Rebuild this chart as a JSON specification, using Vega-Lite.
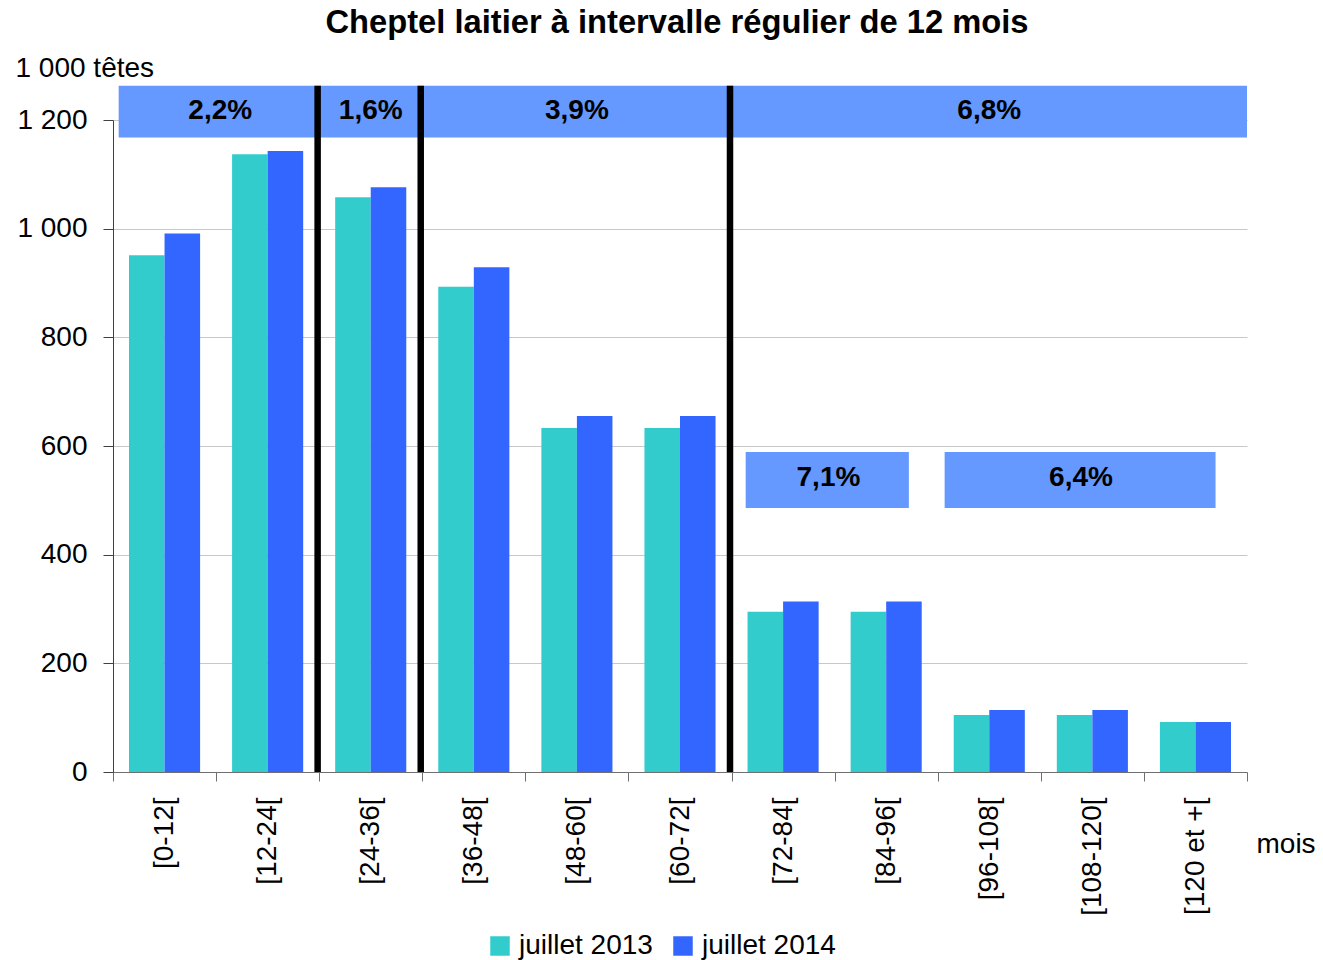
{
  "$schema": "https://vega.github.io/schema/vega-lite/v6.json",
  "width": 1134,
  "height": 652,
  "autosize": {"type": "none"},
  "padding": {"left": 113, "top": 120, "right": 76, "bottom": 188},
  "background": "white",
  "title": {
    "text": "Cheptel laitier à intervalle régulier de 12 mois",
    "font": "Liberation Sans",
    "fontSize": 32.7,
    "fontWeight": "bold",
    "color": "black",
    "anchor": "middle",
    "dx": -3,
    "dy": -10
  },
  "config": {
    "view": {"stroke": null},
    "font": "Liberation Sans"
  },
  "datasets": {
    "bars": [
      {"classe": "[0-12[", "annee": "juillet 2013", "tetes": 951},
      {"classe": "[0-12[", "annee": "juillet 2014", "tetes": 991},
      {"classe": "[12-24[", "annee": "juillet 2013", "tetes": 1137},
      {"classe": "[12-24[", "annee": "juillet 2014", "tetes": 1143},
      {"classe": "[24-36[", "annee": "juillet 2013", "tetes": 1058},
      {"classe": "[24-36[", "annee": "juillet 2014", "tetes": 1076},
      {"classe": "[36-48[", "annee": "juillet 2013", "tetes": 893},
      {"classe": "[36-48[", "annee": "juillet 2014", "tetes": 929},
      {"classe": "[48-60[", "annee": "juillet 2013", "tetes": 633},
      {"classe": "[48-60[", "annee": "juillet 2014", "tetes": 655},
      {"classe": "[60-72[", "annee": "juillet 2013", "tetes": 633},
      {"classe": "[60-72[", "annee": "juillet 2014", "tetes": 655},
      {"classe": "[72-84[", "annee": "juillet 2013", "tetes": 295},
      {"classe": "[72-84[", "annee": "juillet 2014", "tetes": 314},
      {"classe": "[84-96[", "annee": "juillet 2013", "tetes": 295},
      {"classe": "[84-96[", "annee": "juillet 2014", "tetes": 314},
      {"classe": "[96-108[", "annee": "juillet 2013", "tetes": 105},
      {"classe": "[96-108[", "annee": "juillet 2014", "tetes": 114},
      {"classe": "[108-120[", "annee": "juillet 2013", "tetes": 105},
      {"classe": "[108-120[", "annee": "juillet 2014", "tetes": 114},
      {"classe": "[120 et +[", "annee": "juillet 2013", "tetes": 92},
      {"classe": "[120 et +[", "annee": "juillet 2014", "tetes": 92}
    ],
    "premierBandeau": [
      {"debut": "[0-12[", "fin": "[12-24[", "evolution": "2,2%"}
    ],
    "bandeauxHaut": [
      {"debut": "[24-36[", "fin": "[24-36[", "evolution": "1,6%"},
      {"debut": "[36-48[", "fin": "[60-72[", "evolution": "3,9%"},
      {"debut": "[72-84[", "fin": "[120 et +[", "evolution": "6,8%"}
    ],
    "bandeauBas1": [
      {"debut": "[72-84[", "fin": "[84-96[", "evolution": "7,1%"}
    ],
    "bandeauBas2": [
      {"debut": "[96-108[", "fin": "[120 et +[", "evolution": "6,4%"}
    ],
    "limites": [
      {"limite": "[24-36["},
      {"limite": "[36-48["},
      {"limite": "[72-84["}
    ]
  },
  "layer": [
    {
      "data": {"name": "bars"},
      "mark": {"type": "bar"},
      "encoding": {
        "x": {
          "field": "classe",
          "type": "nominal",
          "scale": {
            "domain": ["[0-12[", "[12-24[", "[24-36[", "[36-48[", "[48-60[", "[60-72[", "[72-84[", "[84-96[", "[96-108[", "[108-120[", "[120 et +["],
            "paddingInner": 0,
            "paddingOuter": 0
          },
          "axis": {
            "title": "mois",
            "labelAngle": -90,
            "labelAlign": "right",
            "labelBaseline": "middle",
            "labelFontSize": 28,
            "labelColor": "black",
            "labelPadding": 16,
            "tickBand": "extent",
            "tickSize": 9,
            "tickColor": "#707070",
            "domainColor": "#707070",
            "grid": false,
            "titleAngle": 0,
            "titleX": 1143,
            "titleY": 80,
            "titleAlign": "left",
            "titleBaseline": "alphabetic",
            "titleFontSize": 28,
            "titleFontWeight": "normal",
            "titleColor": "black"
          }
        },
        "xOffset": {
          "field": "annee",
          "type": "nominal",
          "scale": {"paddingInner": 0, "paddingOuter": 0.45}
        },
        "y": {
          "field": "tetes",
          "type": "quantitative",
          "scale": {"domain": [0, 1200], "nice": false},
          "axis": {
            "title": "1 000 têtes",
            "values": [0, 200, 400, 600, 800, 1000, 1200],
            "labelExpr": "replace(format(datum.value, ','), ',', ' ')",
            "labelFontSize": 28,
            "labelColor": "black",
            "labelPadding": 16,
            "tickSize": 10,
            "tickColor": "#404040",
            "domainColor": "#404040",
            "grid": true,
            "gridColor": "#C8C8C8",
            "titleAngle": 0,
            "titleX": -98,
            "titleY": -44,
            "titleAlign": "left",
            "titleBaseline": "alphabetic",
            "titleFontSize": 28,
            "titleFontWeight": "normal",
            "titleColor": "black"
          }
        },
        "color": {
          "field": "annee",
          "type": "nominal",
          "scale": {"range": ["#33CCCC", "#3366FF"]},
          "legend": {
            "title": null,
            "orient": "none",
            "direction": "horizontal",
            "legendX": 373,
            "legendY": 812,
            "padding": 0,
            "labelFontSize": 28,
            "labelColor": "black",
            "labelLimit": 300,
            "labelOffset": 5,
            "columnPadding": 16,
            "symbolType": "square",
            "symbolSize": 380,
            "symbolStrokeWidth": 0
          }
        }
      }
    },
    {
      "data": {"name": "premierBandeau"},
      "mark": {"type": "rect", "color": "#6699FF"},
      "encoding": {
        "x": {"field": "debut", "type": "nominal", "bandPosition": 0.055},
        "x2": {"field": "fin", "bandPosition": 1},
        "y": {"datum": 1168, "type": "quantitative"},
        "y2": {"datum": 1263}
      }
    },
    {
      "data": {"name": "bandeauxHaut"},
      "mark": {"type": "rect", "color": "#6699FF"},
      "encoding": {
        "x": {"field": "debut", "type": "nominal", "bandPosition": 0},
        "x2": {"field": "fin", "bandPosition": 1},
        "y": {"datum": 1168, "type": "quantitative"},
        "y2": {"datum": 1263}
      }
    },
    {
      "data": {"name": "bandeauBas1"},
      "mark": {"type": "rect", "color": "#6699FF"},
      "encoding": {
        "x": {"field": "debut", "type": "nominal", "bandPosition": 0.137},
        "x2": {"field": "fin", "bandPosition": 0.72},
        "y": {"datum": 486, "type": "quantitative"},
        "y2": {"datum": 589}
      }
    },
    {
      "data": {"name": "bandeauBas2"},
      "mark": {"type": "rect", "color": "#6699FF"},
      "encoding": {
        "x": {"field": "debut", "type": "nominal", "bandPosition": 0.067},
        "x2": {"field": "fin", "bandPosition": 0.695},
        "y": {"datum": 486, "type": "quantitative"},
        "y2": {"datum": 589}
      }
    },
    {
      "data": {"name": "limites"},
      "mark": {"type": "rule", "color": "black", "strokeWidth": 6.5},
      "encoding": {
        "x": {"field": "limite", "type": "nominal", "bandPosition": -0.015},
        "y": {"datum": 0, "type": "quantitative"},
        "y2": {"datum": 1263}
      }
    },
    {
      "data": {"name": "premierBandeau"},
      "mark": {"type": "text", "fontSize": 28, "fontWeight": "bold", "color": "black", "baseline": "middle", "align": "center"},
      "encoding": {
        "x": {"field": "debut", "type": "nominal", "bandPosition": 1.04},
        "y": {"datum": 1217, "type": "quantitative"},
        "text": {"field": "evolution"}
      }
    },
    {
      "data": {"values": [
        {"centre": "[24-36[", "evolution": "1,6%"},
        {"centre": "[48-60[", "evolution": "3,9%"},
        {"centre": "[96-108[", "evolution": "6,8%"}
      ]},
      "mark": {"type": "text", "fontSize": 28, "fontWeight": "bold", "color": "black", "baseline": "middle", "align": "center"},
      "encoding": {
        "x": {"field": "centre", "type": "nominal", "bandPosition": 0.5},
        "y": {"datum": 1217, "type": "quantitative"},
        "text": {"field": "evolution"}
      }
    },
    {
      "data": {"values": [{"centre": "[72-84[", "evolution": "7,1%"}]},
      "mark": {"type": "text", "fontSize": 28, "fontWeight": "bold", "color": "black", "baseline": "middle", "align": "center"},
      "encoding": {
        "x": {"field": "centre", "type": "nominal", "bandPosition": 0.94},
        "y": {"datum": 541, "type": "quantitative"},
        "text": {"field": "evolution"}
      }
    },
    {
      "data": {"values": [{"centre": "[108-120[", "evolution": "6,4%"}]},
      "mark": {"type": "text", "fontSize": 28, "fontWeight": "bold", "color": "black", "baseline": "middle", "align": "center"},
      "encoding": {
        "x": {"field": "centre", "type": "nominal", "bandPosition": 0.39},
        "y": {"datum": 541, "type": "quantitative"},
        "text": {"field": "evolution"}
      }
    }
  ]
}
